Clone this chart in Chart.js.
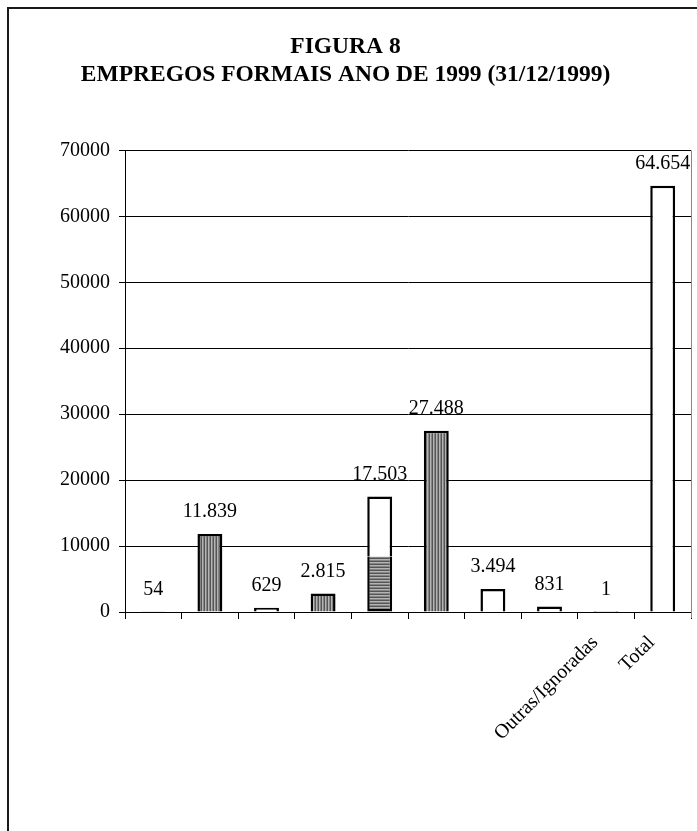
<!DOCTYPE html>
<html>
<head>
<meta charset="utf-8">
<script src="https://cdn.jsdelivr.net/npm/chart.js@4.4.1/dist/chart.umd.min.js"></script>
<style>
  html, body { margin: 0; padding: 0; background: #fff; }
  #wrap { position: relative; width: 697px; height: 831px; }
</style>
</head>
<body>
<div id="wrap"><canvas id="chart" width="697" height="831"></canvas></div>
<script>
// ---- data ----
const categories   = ['', '', '', '', '', '', '', '', 'Outras/Ignoradas', 'Total'];
const totals       = [54, 11839, 629, 2815, 17503, 27488, 3494, 831, 1, 64654];
// bar 5 is split: hatched lower part + white upper part
const lowerSegment = [54, 11839, 629, 2815, 8400, 27488, 3494, 831, 1, 64654];
const upperSegment = [0, 0, 0, 0, 9103, 0, 0, 0, 0, 0];
const fillKinds    = ['plain', 'vstripe', 'plain', 'vstripe', 'hstripe', 'vstripe', 'plain', 'plain', 'plain', 'plain'];
const titleLines   = ['FIGURA 8', 'EMPREGOS FORMAIS ANO DE 1999 (31/12/1999)'];
const yMin = 0, yMax = 70000, yStep = 10000;

const SERIF = '"Liberation Serif", "Times New Roman", serif';
Chart.defaults.font.family = SERIF;
Chart.defaults.font.size = 20;
Chart.defaults.color = '#000';

function stripes(horizontal) {
  const c = document.createElement('canvas');
  const cols = ['#555555', '#b4b4b4', '#858585'];
  c.width = horizontal ? 1 : 3;
  c.height = horizontal ? 3 : 1;
  const g = c.getContext('2d');
  cols.forEach((col, i) => {
    g.fillStyle = col;
    if (horizontal) g.fillRect(0, i, 1, 1); else g.fillRect(i, 0, 1, 1);
  });
  return g.createPattern(c, 'repeat');
}
const fills = { plain: '#ffffff', vstripe: stripes(false), hstripe: stripes(true) };

const fmtBR = v => String(v).replace(/\B(?=(\d{3})+(?!\d))/g, '.');

// frame + right plot edge + value labels
const decor = {
  id: 'decor',
  beforeDraw(chart) {
    const ctx = chart.ctx;
    ctx.save();
    ctx.fillStyle = '#fff';
    ctx.fillRect(0, 0, chart.width, chart.height);
    ctx.fillStyle = '#1a1a1a';
    ctx.fillRect(7, 7, 2, chart.height - 7);
    ctx.fillRect(7, 7, chart.width - 7, 2);
    ctx.restore();
  },
  afterDraw(chart) {
    const ctx = chart.ctx, a = chart.chartArea;
    ctx.save();
    ctx.strokeStyle = '#888';
    ctx.lineWidth = 1;
    ctx.beginPath();
    ctx.moveTo(a.right + 0.5, a.top);
    ctx.lineTo(a.right + 0.5, a.bottom + 6);
    ctx.stroke();
    const meta = chart.getDatasetMeta(0);
    const y = chart.scales.y;
    ctx.font = '20px ' + SERIF;
    ctx.fillStyle = '#000';
    ctx.textAlign = 'center';
    ctx.textBaseline = 'middle';
    totals.forEach((v, i) => {
      ctx.fillText(fmtBR(v), meta.data[i].x, y.getPixelForValue(v) - 22);
    });
    ctx.restore();
  }
};

new Chart(document.getElementById('chart'), {
  type: 'bar',
  data: {
    labels: categories,
    datasets: [
      {
        data: lowerSegment,
        backgroundColor: fillKinds.map(k => fills[k]),
        borderColor: '#000',
        borderWidth: 2.5,
        borderSkipped: ctx => (ctx.dataIndex === 4 ? 'top' : 'start'),
        stack: 's',
      },
      {
        data: upperSegment,
        backgroundColor: '#ffffff',
        borderColor: '#000',
        borderWidth: 2.5,
        stack: 's',
      },
    ],
  },
  options: {
    responsive: false,
    animation: false,
    layout: { padding: { left: 0, right: 6, top: 0, bottom: 0 } },
    datasets: { bar: { categoryPercentage: 1, barPercentage: 0.44 } },
    plugins: {
      legend: { display: false },
      tooltip: { enabled: false },
      title: {
        display: true,
        text: titleLines,
        color: '#000',
        font: { family: SERIF, size: 23.5, weight: 'bold', lineHeight: 1.2 },
        padding: { top: 33, bottom: 61 },
      },
    },
    scales: {
      x: {
        stacked: true,
        offset: true,
        grid: { offset: true, drawOnChartArea: false, drawTicks: true, tickLength: 7, color: '#000' },
        border: { color: '#000', width: 1 },
        ticks: { color: '#000', maxRotation: 45, minRotation: 45, autoSkip: false, padding: 12, labelOffset: -11, font: { size: 20 } },
        afterFit: s => { s.height = 219; },
      },
      y: {
        stacked: true,
        min: yMin,
        max: yMax,
        grid: { color: '#000', lineWidth: 1, tickLength: 6 },
        border: { color: '#000', width: 1 },
        ticks: { stepSize: yStep, color: '#000', padding: 9, callback: v => String(v), font: { size: 20 } },
        afterFit: s => { s.width = 125; },
      },
    },
  },
  plugins: [decor],
});
</script>
</body>
</html>
